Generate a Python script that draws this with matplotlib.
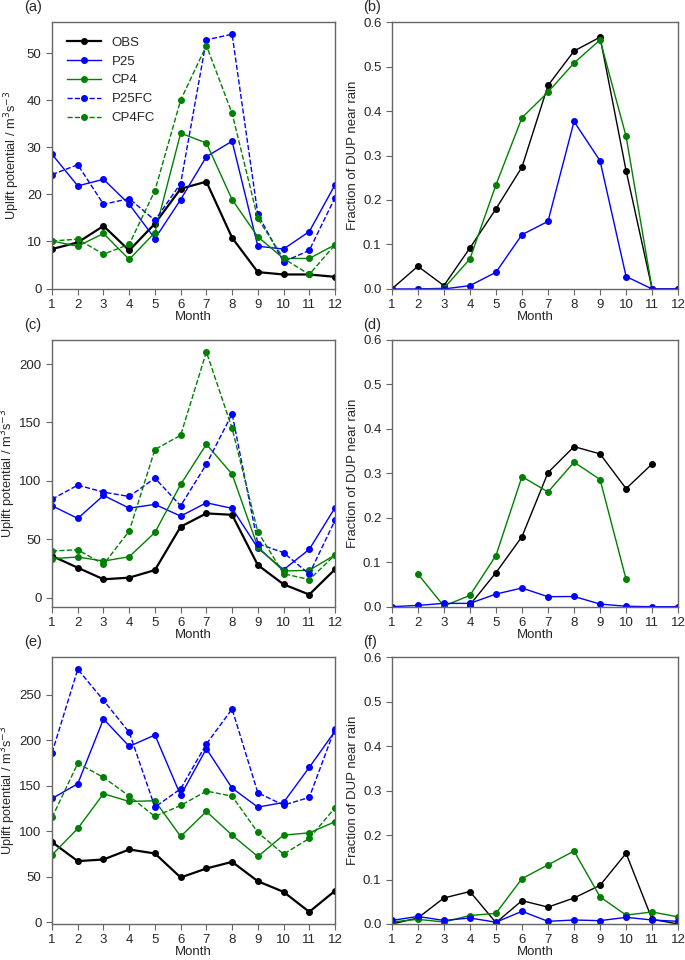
import numpy as np
import matplotlib
matplotlib.use('Agg')
import matplotlib.pyplot as plt

nan = np.nan
months = np.arange(1, 13)

# (a) uplift potential, region 1
obs_a   = [8.4, 9.8, 13.3, 8.1, 13.8, 21.2, 22.7, 10.8, 3.5, 3.0, 3.0, 2.5]
p25_a   = [28.5, 21.8, 23.2, 17.9, 10.6, 18.9, 28.0, 31.3, 9.0, 8.4, 12.1, 22.0]
cp4_a   = [10.1, 9.0, 11.7, 6.2, 11.9, 33.0, 30.9, 18.9, 11.0, 6.4, 6.4, 9.3]
p25fc_a = [24.2, 26.3, 17.9, 19.1, 14.5, 22.3, 52.8, 54.0, 15.8, 5.7, 8.1, 19.3]
cp4fc_a = [10.1, 10.5, 7.3, 9.4, 20.8, 40.0, 51.6, 37.2, 14.9, 6.4, 3.0, 9.3]

# (b) fraction of DUP near rain, region 1
obs_b = [0.0, 0.051, 0.0075, 0.092, 0.18, 0.274, 0.4575, 0.535, 0.566, 0.266, 0.0, 0.0]
p25_b = [0.0, 0.0, 0.0, 0.0075, 0.0375, 0.122, 0.152, 0.3765, 0.288, 0.028, 0.0, 0.0]
cp4_b = [nan, 0.0, 0.0015, 0.0675, 0.234, 0.385, 0.4425, 0.508, 0.56, 0.343, 0.0, nan]

# (c) uplift potential, region 2
obs_c   = [35.6, 25.6, 15.7, 17.1, 23.6, 60.7, 72.1, 70.9, 27.9, 11.4, 2.6, 24.2]
p25_c   = [78.6, 67.8, 87.5, 76.6, 79.8, 69.8, 81.2, 76.4, 42.5, 23.9, 41.3, 76.9]
cp4_c   = [33.3, 34.8, 31.3, 35.0, 55.8, 96.9, 131.3, 105.7, 43.3, 22.8, 23.4, 36.5]
p25fc_c = [84.3, 96.3, 90.3, 86.6, 102.3, 78.6, 114.2, 157.3, 46.2, 38.5, 20.2, 66.1]
cp4fc_c = [39.9, 41.0, 28.5, 57.0, 126.8, 139.0, 210.3, 145.0, 56.4, 20.5, 15.4, 36.5]

# (d) fraction of DUP near rain, region 2
obs_d = [nan, nan, nan, 0.004, 0.0765, 0.1575, 0.3015, 0.36, 0.3435, 0.2655, 0.321, nan]
p25_d = [0.0, 0.003, 0.0075, 0.0075, 0.0285, 0.042, 0.0225, 0.023, 0.006, 0.001, 0.0, 0.0]
cp4_d = [nan, 0.0735, 0.0015, 0.0255, 0.115, 0.2925, 0.258, 0.325, 0.286, 0.0615, nan, nan]

# (e) uplift potential, region 3
obs_e   = [88.1, 67.2, 69.0, 80.0, 75.6, 49.2, 59.1, 66.4, 45.1, 33.4, 11.4, 34.5]
p25_e   = [136.1, 152.3, 223.5, 193.4, 205.9, 139.4, 190.8, 147.5, 126.6, 131.7, 170.3, 210.0]
cp4_e   = [74.1, 103.1, 141.3, 132.8, 133.6, 94.3, 121.8, 95.8, 72.3, 95.8, 98.3, 110.5]
p25fc_e = [186.4, 278.2, 244.0, 208.8, 126.6, 146.8, 196.0, 234.5, 142.4, 128.8, 137.2, 213.0]
cp4fc_e = [115.2, 174.7, 159.3, 138.7, 116.3, 128.4, 144.2, 138.7, 98.7, 74.9, 92.1, 125.9]

# (f) fraction of DUP near rain, region 3
obs_f = [0.0, 0.0135, 0.0585, 0.073, 0.003, 0.0525, 0.038, 0.0585, 0.087, 0.159, 0.0105, 0.0]
p25_f = [0.008, 0.017, 0.008, 0.0135, 0.004, 0.0285, 0.006, 0.009, 0.0075, 0.015, 0.009, 0.006]
cp4_f = [0.0045, 0.0105, 0.0045, 0.019, 0.024, 0.102, 0.133, 0.164, 0.061, 0.020, 0.027, 0.016]

plt.rcParams['font.family'] = ['Liberation Sans', 'DejaVu Sans']
plt.rcParams['font.size'] = 9.5
plt.rcParams['text.color'] = '0.15'
plt.rcParams['axes.labelcolor'] = '0.15'
plt.rcParams['xtick.color'] = '0.15'
plt.rcParams['ytick.color'] = '0.15'
plt.rcParams['axes.edgecolor'] = '0.4'

fig = plt.figure(figsize=(6.85, 9.6), dpi=100)

lefts = [0.076, 0.572]
widths = [0.413, 0.418]
bottoms = [0.699, 0.368, 0.0375]
height = 0.278

uplift = [(obs_a, p25_a, cp4_a, p25fc_a, cp4fc_a),
          (obs_c, p25_c, cp4_c, p25fc_c, cp4fc_c),
          (obs_e, p25_e, cp4_e, p25fc_e, cp4fc_e)]
fracs = [(obs_b, p25_b, cp4_b), (obs_d, p25_d, cp4_d), (obs_f, p25_f, cp4_f)]
letters = [('(a)', '(b)'), ('(c)', '(d)'), ('(e)', '(f)')]
yticks_left = [np.arange(0, 51, 10), np.arange(0, 201, 50), np.arange(0, 251, 50)]
ylab_x = [-0.106, -0.12, -0.12]

def style(ax):
    ax.set_xlim(1, 12)
    ax.set_xticks(months)
    ax.set_xlabel('Month', labelpad=0)
    ax.tick_params(direction='out', length=4, width=0.8, color='0.4', labelsize=9.5)
    for s in ax.spines.values():
        s.set_linewidth(1.0)

for r in range(3):
    ax = fig.add_axes([lefts[0], bottoms[r], widths[0], height])
    obs, p25, cp4, p25fc, cp4fc = uplift[r]
    ax.plot(months, obs, 'o-', color='k', lw=1.6, ms=4, label='OBS')
    ax.plot(months, p25, 'o-', color='b', lw=1.0, ms=4, label='P25')
    ax.plot(months, cp4, 'o-', color='g', lw=1.0, ms=4, label='CP4')
    ax.plot(months, p25fc, 'o--', color='b', lw=1.0, ms=4, label='P25FC')
    ax.plot(months, cp4fc, 'o--', color='g', lw=1.0, ms=4, label='CP4FC')
    style(ax)
    ax.set_yticks(yticks_left[r])
    ax.set_ylabel('Uplift potential / m$^3$s$^{-3}$', fontsize=9.2)
    ax.yaxis.set_label_coords(ylab_x[r], 0.5)
    ax.text(-0.1, 1.055, letters[r][0], transform=ax.transAxes,
            fontsize=10.5, va='center', ha='left')
    if r == 0:
        ax.legend(loc='upper left', frameon=False, fontsize=9.5,
                  handlelength=2.6, handletextpad=0.8,
                  borderaxespad=0.7, labelspacing=0.5)

    ax2 = fig.add_axes([lefts[1], bottoms[r], widths[1], height])
    obs, p25, cp4 = fracs[r]
    ax2.plot(months, obs, 'o-', color='k', lw=1.0, ms=4)
    ax2.plot(months, cp4, 'o-', color='g', lw=1.0, ms=4)
    ax2.plot(months, p25, 'o-', color='b', lw=1.0, ms=4)
    style(ax2)
    ax2.set_ylim(0, 0.6)
    ax2.set_yticks(np.arange(0, 0.61, 0.1))
    ax2.set_ylabel('Fraction of DUP near rain', labelpad=3)
    ax2.text(-0.1, 1.055, letters[r][1], transform=ax2.transAxes,
             fontsize=10.5, va='center', ha='left')

fig.savefig('out.png', dpi=100)
